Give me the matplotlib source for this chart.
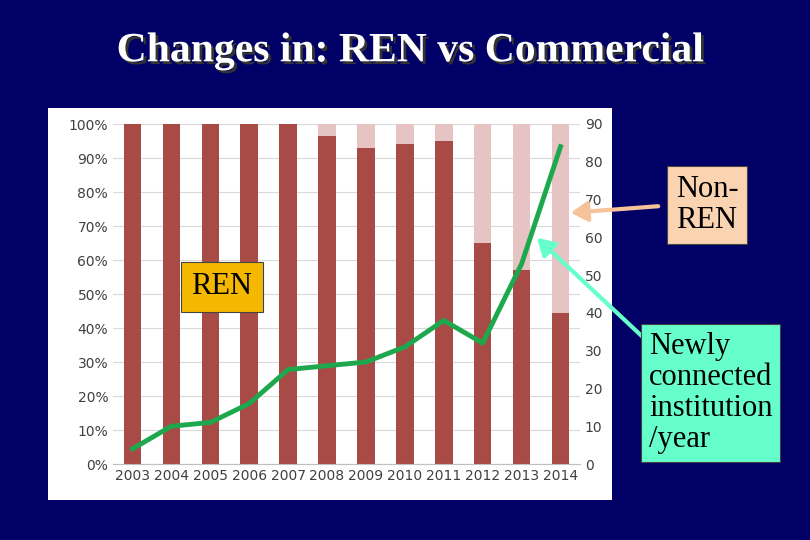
import matplotlib
matplotlib.use('Agg')
import matplotlib.pyplot as plt
import matplotlib.patheffects as pe
import numpy as np

years = ['2003', '2004', '2005', '2006', '2007', '2008', '2009', '2010', '2011', '2012', '2013', '2014']
ren_pct = [100, 100, 100, 100, 100, 96.5, 93, 94, 95, 65, 57, 44.5]
newly_connected = [4, 10, 11, 16, 25, 26, 27, 31, 38, 32, 53, 84]

bg = '#000066'
fig = plt.figure(figsize=(8.1, 5.4), dpi=100)
fig.patch.set_facecolor(bg)

# white chart panel as its own axes, below the chart
panel = fig.add_axes([48 / 810, 1 - 500 / 540, 564 / 810, 392 / 540], zorder=0)
panel.set_facecolor('white')
panel.set_xticks([])
panel.set_yticks([])
for s in panel.spines.values():
    s.set_visible(False)

ax = fig.add_axes([113 / 810, 1 - 464 / 540, 467 / 810, 340 / 540], zorder=1)
ax.set_facecolor('none')
x = np.arange(len(years))
non_ren = [100 - v for v in ren_pct]
ax.bar(x, ren_pct, 0.45, color='#A84A45', zorder=2)
ax.bar(x, non_ren, 0.45, bottom=ren_pct, color='#E6C4C3', zorder=2)
ax.set_ylim(0, 100)
ax.set_xlim(-0.5, len(years) - 0.5)
ax.set_yticks(range(0, 101, 10))
ax.set_yticklabels([f'{v}%' for v in range(0, 101, 10)], fontsize=10, color='#404040')
ax.set_xticks(x)
ax.set_xticklabels(years, fontsize=10, color='#404040')
ax.yaxis.grid(True, color='#D9D9D9', lw=0.8, zorder=0)
ax.set_axisbelow(True)
ax.tick_params(length=0)
for s in ax.spines.values():
    s.set_visible(False)
ax.spines['bottom'].set_visible(True)
ax.spines['bottom'].set_color('#BFBFBF')

ax2 = ax.twinx()
ax2.plot(x, newly_connected, color='#1DA84E', lw=3.5, zorder=3)
ax2.set_ylim(0, 90)
ax2.set_yticks(range(0, 91, 10))
ax2.tick_params(length=0, labelsize=10, labelcolor='#404040')
for s in ax2.spines.values():
    s.set_visible(False)

fig.text(0.506, 0.905, 'Changes in: REN vs Commercial', ha='center', va='center',
         fontsize=30, fontweight='bold', family='Liberation Serif', color='white',
         path_effects=[pe.withSimplePatchShadow(offset=(2, -2), shadow_rgbFace='#333333', alpha=1)])

def label(xp, yp, txt, fc, ha='left', bold=False, pad=0.2):
    fig.text(xp / 810, 1 - yp / 540, txt, ha=ha, va='center', fontsize=22,
             family='Liberation Serif', color='black', linespacing=1.1,
             fontweight='bold' if bold else 'normal', zorder=5,
             bbox=dict(boxstyle=f'square,pad={pad}', facecolor=fc, edgecolor='#444444', lw=0.8))

label(707, 205, 'Non-\nREN', '#FAD3B0', ha='center', pad=0.3)
label(222, 287, 'REN', '#F5B800', ha='center', pad=0.35)
label(649, 393, 'Newly\nconnected\ninstitution\n/year', '#66FFCC', pad=0.25)

fig.add_artist(matplotlib.patches.FancyArrowPatch((661 / 810, 1 - 206 / 540), (568 / 810, 1 - 213 / 540),
               transform=fig.transFigure, arrowstyle='-|>,head_width=6,head_length=10',
               color='#F5C29A', lw=3, zorder=4))
fig.add_artist(matplotlib.patches.FancyArrowPatch((646 / 810, 1 - 340 / 540), (535 / 810, 1 - 236 / 540),
               transform=fig.transFigure, arrowstyle='-|>,head_width=6,head_length=10',
               color='#66FFCC', lw=3, zorder=4))

fig.savefig('out.png', dpi=100, facecolor=bg)
